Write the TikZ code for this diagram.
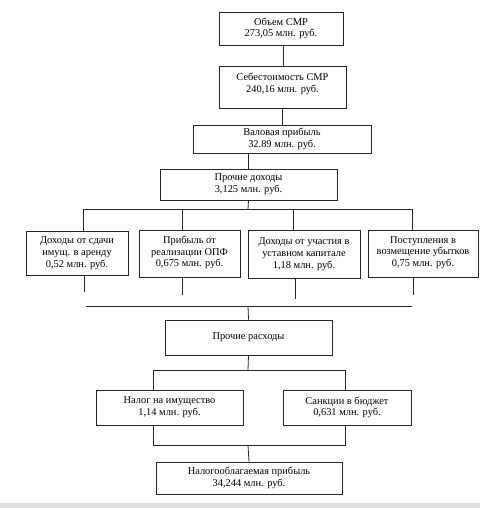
\documentclass[tikz,border=0pt]{standalone}
\usepackage{fontspec}
\setmainfont{Liberation Serif}
\begin{document}
\begin{tikzpicture}[x=0.75pt,y=-0.75pt,
  box/.style={draw=black!85,line width=0.6pt,align=center,inner sep=0pt,
    font=\fontsize{7.8}{8.8}\selectfont},
  wire/.style={draw=black!85,line width=0.6pt}]
\useasboundingbox (0,0) rectangle (480,508);
\fill[white] (0,0) rectangle (480,508);
\fill[black!13] (0,503) rectangle (480,508);
\node[box,minimum width=124*0.75pt,minimum height=33*0.75pt] (b1) at (281,28.5) {Объем СМР\\273,05 млн. руб.};
\node[box,minimum width=127*0.75pt,minimum height=42*0.75pt] (b2) at (282.5,87) {Себестоимость СМР\\240,16 млн. руб.\rule[-6pt]{0pt}{0pt}};
\node[box,minimum width=178*0.75pt,minimum height=28*0.75pt] (b3) at (282,139) {Валовая прибыль\\32.89 млн. руб.};
\node[box,minimum width=177*0.75pt,minimum height=31*0.75pt] (b4) at (248.5,184.5) {Прочие доходы\\3,125 млн. руб.};
\node[box,minimum width=102*0.75pt,minimum height=44*0.75pt] (ba) at (77,253) {Доходы от сдачи\\имущ. в аренду\\0,52 млн. руб.};
\node[box,minimum width=101*0.75pt,minimum height=47*0.75pt] (bb) at (189.5,253.5) {Прибыль от\\реализации ОПФ\\0,675 млн. руб.\rule[-3pt]{0pt}{0pt}};
\node[box,minimum width=112*0.75pt,minimum height=48*0.75pt] (bc) at (304,254) {Доходы от участия в\\уставном капитале\\1,18 млн. руб.};
\node[box,minimum width=110*0.75pt,minimum height=47*0.75pt] (bd) at (423,253.5) {Поступления в\\возмещение убытков\\0,75 млн. руб.\rule[-3pt]{0pt}{0pt}};
\node[box,minimum width=167*0.75pt,minimum height=35*0.75pt] (be) at (248.5,337.5) {Прочие расходы};
\node[box,minimum width=147*0.75pt,minimum height=35*0.75pt] (bf) at (169.5,407.5) {Налог на имущество\\1,14 млн. руб.};
\node[box,minimum width=128*0.75pt,minimum height=35*0.75pt] (bg) at (347,407.5) {Санкции в бюджет\\0,631 млн. руб.};
\node[box,minimum width=186*0.75pt,minimum height=32*0.75pt] (bh) at (249,478) {Налогооблагаемая прибыль\\34,244 млн. руб.};
% bus coordinates
\coordinate (j1) at (248,209);
\coordinate (bl) at (83,209);
\coordinate (br) at (412,209);
\coordinate (ta) at (83,231);
\coordinate (tb) at (182,231);
\coordinate (tc) at (293,231);
\coordinate (td) at (412,231);
\coordinate (ea) at (84,292);
\coordinate (eb) at (182,295);
\coordinate (ec) at (295,299);
\coordinate (ed) at (413,295);
\coordinate (ml) at (86,306);
\coordinate (mr) at (412,306);
\coordinate (mc) at (248,306);
\coordinate (j2) at (248,370);
\coordinate (fl) at (153,370);
\coordinate (fr) at (345,370);
\coordinate (gl) at (153,445);
\coordinate (gr) at (345,445);
\coordinate (j3) at (248,445);
\draw[wire] (b1.south -| 283,0) -- (b2.north -| 283,0);
\draw[wire] (b2.south -| 282,0) -- (b3.north -| 282,0);
\draw[wire] (b4.north |- b3.south) -- (b4.north);
\draw[wire] (b4.south) -- (j1);
\draw[wire] (bl) -- (br);
\draw[wire] (tb |- bl) -- (tb) (tc |- bl) -- (tc) (bl) -- (ta) (br) -- (td);
\draw[wire] (ea |- ba.south) -- (ea);
\draw[wire] (eb |- bb.south) -- (eb);
\draw[wire] (ec |- bc.south) -- (ec);
\draw[wire] (ed |- bd.south) -- (ed);
\draw[wire] (ml) -- (mr);
\draw[wire] (mc) -- (be.north);
\draw[wire] (be.south) -- (j2);
\draw[wire] (fl |- bf.north) -- (fl) -- (fr) -- (fr |- bg.north);
\draw[wire] (gl |- bf.south) -- (gl) -- (gr) -- (gr |- bg.south);
\draw[wire] (j3) -- (bh.north);
\end{tikzpicture}
\end{document}
